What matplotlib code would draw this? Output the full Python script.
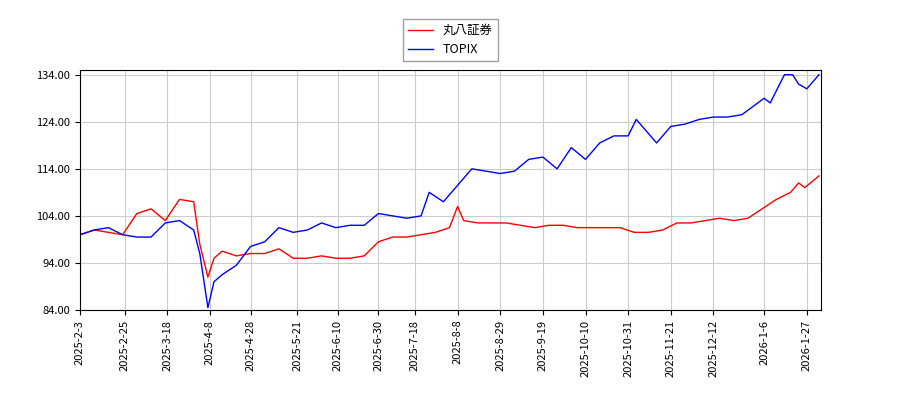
import matplotlib
matplotlib.use("Agg")
import matplotlib.pyplot as plt
import matplotlib.dates as mdates
import pandas as pd

plt.rcParams['font.family'] = ['Noto Sans CJK JP', 'DejaVu Sans']

red_dates = ["2025-02-03","2025-02-10","2025-02-17","2025-02-24","2025-03-03","2025-03-10","2025-03-17","2025-03-24","2025-03-31","2025-04-03","2025-04-07","2025-04-10","2025-04-14","2025-04-21","2025-04-28","2025-05-05","2025-05-12","2025-05-19","2025-05-26","2025-06-02","2025-06-09","2025-06-16","2025-06-23","2025-06-30","2025-07-07","2025-07-14","2025-07-21","2025-07-28","2025-08-04","2025-08-08","2025-08-11","2025-08-18","2025-08-25","2025-09-01","2025-09-08","2025-09-15","2025-09-22","2025-09-29","2025-10-06","2025-10-13","2025-10-20","2025-10-27","2025-11-03","2025-11-10","2025-11-17","2025-11-24","2025-12-01","2025-12-08","2025-12-15","2025-12-22","2025-12-29","2026-01-05","2026-01-12","2026-01-19","2026-01-23","2026-01-26","2026-02-02"]
red_vals = [100,101,100.5,100,104.5,105.5,103,107.5,107,98,91,95,96.5,95.5,96,96,97,95,95,95.5,95,95,95.5,98.5,99.5,99.5,100,100.5,101.5,106,103,102.5,102.5,102.5,102,101.5,102,102,101.5,101.5,101.5,101.5,100.5,100.5,101,102.5,102.5,103,103.5,103,103.5,105.5,107.5,109,111,110,112.5]

blue_dates = ["2025-02-03","2025-02-10","2025-02-17","2025-02-24","2025-03-03","2025-03-10","2025-03-17","2025-03-24","2025-03-31","2025-04-03","2025-04-07","2025-04-10","2025-04-14","2025-04-21","2025-04-28","2025-05-05","2025-05-12","2025-05-19","2025-05-26","2025-06-02","2025-06-09","2025-06-16","2025-06-23","2025-06-30","2025-07-07","2025-07-14","2025-07-21","2025-07-25","2025-08-01","2025-08-08","2025-08-15","2025-08-22","2025-08-29","2025-09-05","2025-09-12","2025-09-19","2025-09-26","2025-10-03","2025-10-10","2025-10-17","2025-10-24","2025-10-31","2025-11-04","2025-11-14","2025-11-21","2025-11-28","2025-12-05","2025-12-12","2025-12-19","2025-12-26","2026-01-06","2026-01-09","2026-01-16","2026-01-20","2026-01-23","2026-01-27","2026-02-02"]
blue_vals = [100,101,101.5,100,99.5,99.5,102.5,103,101,96,84.5,90,91.5,93.5,97.5,98.5,101.5,100.5,101,102.5,101.5,102,102,104.5,104,103.5,104,109,107,110.5,114,113.5,113,113.5,116,116.5,114,118.5,116,119.5,121,121,124.5,119.5,123,123.5,124.5,125,125,125.5,129,128,134,134,132,131,134]

y_ticks = [84,94,104,114,124,134]
x_ticks = ["2025-2-3","2025-2-25","2025-3-18","2025-4-8","2025-4-28","2025-5-21","2025-6-10","2025-6-30","2025-7-18","2025-8-8","2025-8-29","2025-9-19","2025-10-10","2025-10-31","2025-11-21","2025-12-12","2026-1-6","2026-1-27"]

fig = plt.figure(figsize=(9,4), dpi=100)
ax = fig.add_axes([80/900, 90/400, 741/900, 240/400])
ax.plot(pd.to_datetime(red_dates), red_vals, color='red', lw=1, label='丸八証券')
ax.plot(pd.to_datetime(blue_dates), blue_vals, color='blue', lw=1, label='TOPIX')
ax.set_xlim(pd.Timestamp("2025-02-03"), pd.Timestamp("2026-02-03"))
ax.set_ylim(84, 135)
ax.set_yticks(y_ticks)
ax.set_yticklabels([f"{v:.2f}" for v in y_ticks], fontsize=8)
ax.set_xticks(pd.to_datetime(x_ticks))
ax.set_xticklabels(x_ticks, rotation=90, fontsize=8)
ax.grid(True, color='#cccccc', lw=0.8)
ax.legend(loc='lower center', bbox_to_anchor=(0.5, 1.01), fontsize=9, fancybox=False, edgecolor='#888888')
fig.savefig("out.png")
